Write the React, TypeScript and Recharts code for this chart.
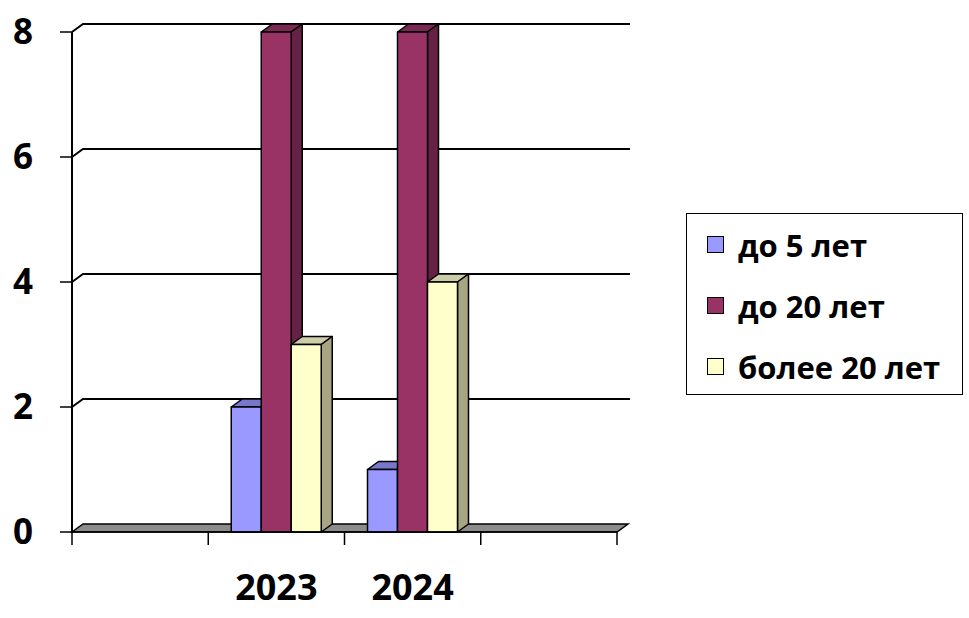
import { BarChart, Bar, XAxis, YAxis, CartesianGrid, Legend } from 'recharts';

const categories = ['', '2023', '2024', ''];
const under5 = [null, 2, 1, null];
const under20 = [null, 8, 8, null];
const over20 = [null, 3, 4, null];
const seriesNames = ['до 5 лет', 'до 20 лет', 'более 20 лет'];
const yTicks = [0, 2, 4, 6, 8];

const FONT = '"Open Sans", "Noto Sans", sans-serif';
const DX = 11;
const DY = 8;
const BAND = 545 / categories.length;

const SERIES = [
  { key: 'a', name: seriesNames[0], front: '#9999ff', top: '#7777cc', side: '#6b6bb3' },
  { key: 'b', name: seriesNames[1], front: '#993366', top: '#7a2952', side: '#662244' },
  { key: 'c', name: seriesNames[2], front: '#ffffcc', top: '#ccccaa', side: '#a6a682' },
];

const data = categories.map((name, i) => ({
  name,
  a: under5[i],
  b: under20[i],
  c: over20[i],
}));

function Box3D(props: any) {
  const { x, y, width, height, top, side, fill } = props;
  if (height == null || height <= 0) return null;
  const r = x + width;
  const b = y + height;
  return (
    <g stroke="#000" strokeWidth={1.5} strokeLinejoin="round">
      <path d={`M${x},${y} L${x + DX},${y - DY} L${r + DX},${y - DY} L${r},${y} Z`} fill={top} />
      <path d={`M${r},${y} L${r + DX},${y - DY} L${r + DX},${b - DY} L${r},${b} Z`} fill={side} />
      <rect x={x} y={y} width={width} height={height} fill={fill} />
    </g>
  );
}

// back-wall gridlines and the grey floor
function GridLine(props: any) {
  const { x1, x2, y1, y, height } = props;
  const isFloor = Math.abs(y1 - (y + height)) < 1;
  if (isFloor) {
    return (
      <path
        key={props.key}
        d={`M${x1},${y1} L${x1 + DX},${y1 - DY} L${x2 + DX},${y1 - DY} L${x2},${y1} Z`}
        fill="#8c8c8c"
        stroke="#000"
        strokeWidth={1.5}
      />
    );
  }
  return (
    <path
      key={props.key}
      d={`M${x1},${y1} L${x1 + DX},${y1 - DY} L${x2 + DX + 2},${y1 - DY}`}
      fill="none"
      stroke="#000"
      strokeWidth={2}
    />
  );
}

function XTick(props: any) {
  const { x, y, payload, index } = props;
  const left = x - BAND / 2;
  return (
    <g>
      <line x1={left} y1={y} x2={left} y2={y + 13} stroke="#000" strokeWidth={1.5} />
      {index === categories.length - 1 && (
        <line x1={x + BAND / 2} y1={y} x2={x + BAND / 2} y2={y + 13} stroke="#000" strokeWidth={1.5} />
      )}
      <text x={x} y={y + 68} textAnchor="middle" fontFamily={FONT} fontWeight={700} fontSize={36} fill="#000">
        {payload.value}
      </text>
    </g>
  );
}

function LegendBox() {
  return (
    <div
      style={{
        width: 277,
        height: 182,
        border: '1.5px solid #000',
        background: '#fff',
        boxSizing: 'border-box',
        paddingTop: 0,
        paddingLeft: 20,
        fontFamily: FONT,
        fontWeight: 700,
        fontSize: 31,
        color: '#000',
      }}
    >
      {SERIES.map((s) => (
        <div key={s.key} style={{ display: 'flex', alignItems: 'center', height: 61, whiteSpace: 'nowrap' }}>
          <span
            style={{
              display: 'inline-block',
              width: 17,
              height: 17,
              background: s.front,
              border: '1.5px solid #000',
              marginRight: 14,
              boxSizing: 'border-box',
              flexShrink: 0,
            }}
          />
          <span>{s.name}</span>
        </div>
      ))}
    </div>
  );
}

export default function App() {
  return (
    <div style={{ position: 'absolute', left: 0, top: 0, width: 969, height: 618, background: '#fff' }}>
      <BarChart
        width={969}
        height={618}
        data={data}
        margin={{ top: 32, right: 352, bottom: 0, left: 0 }}
        barCategoryGap={23}
        barGap={0}
      >
        <CartesianGrid vertical={false} horizontal={GridLine as any} />
        <XAxis
          dataKey="name"
          height={86}
          tickSize={0}
          tickMargin={0}
          tickLine={false}
          axisLine={{ stroke: '#000', strokeWidth: 1.5 }}
          tick={<XTick />}
          interval={0}
        />
        <YAxis
          width={72}
          domain={[0, 8]}
          ticks={yTicks}
          tickSize={12}
          tickMargin={27}
          axisLine={{ stroke: '#000', strokeWidth: 2 }}
          tickLine={{ stroke: '#000', strokeWidth: 1.5 }}
          tick={{ fontFamily: FONT, fontWeight: 700, fontSize: 35, fill: '#000' }}
        />
        <Legend
          layout="vertical"
          align="center"
          verticalAlign="middle"
          content={<LegendBox />}
          wrapperStyle={{ left: 686, top: 213, width: 277 }}
        />
        {SERIES.map((s) => (
          <Bar
            key={s.key}
            dataKey={s.key}
            name={s.name}
            fill={s.front}
            isAnimationActive={false}
            shape={(p: any) => <Box3D {...p} top={s.top} side={s.side} />}
          />
        ))}
      </BarChart>
    </div>
  );
}
